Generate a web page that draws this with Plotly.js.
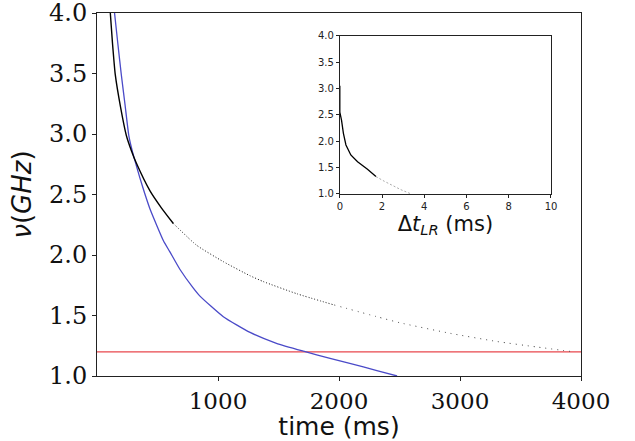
<!DOCTYPE html>
<html>
<head>
<meta charset="utf-8">
<script src="https://cdn.plot.ly/plotly-3.0.1.min.js"></script>
<style>html,body{margin:0;padding:0;background:#fff;}#chart{width:635px;height:441px;}</style>
</head>
<body>
<div id="chart"></div>
<script>
// Main panel: frequency (GHz) vs time (ms)
const blueTime = [145, 173, 201, 232, 264, 294, 325, 355, 394, 438, 548, 600, 686, 793, 851, 1044, 1265, 1483, 1706, 1926, 2089, 2313, 2480];
const blueFreq = [4.0, 3.74, 3.49, 3.24, 2.98, 2.85, 2.74, 2.635, 2.51, 2.38, 2.12, 2.03, 1.88, 1.73, 1.66, 1.49, 1.36, 1.27, 1.205, 1.146, 1.105, 1.045, 1.0];

const blackTimeSolid = [110, 128, 151, 195, 242, 285, 325, 438, 532, 631];
const blackFreqSolid = [4.0, 3.75, 3.49, 3.22, 2.99, 2.86, 2.76, 2.53, 2.39, 2.26];
const blackTimeDense = [631, 824, 1044, 1262, 1375, 1651, 1960];
const blackFreqDense = [2.26, 2.08, 1.945, 1.83, 1.78, 1.68, 1.587];
const blackTimeSparse = [1960, 2313, 2503, 2917, 3306, 3633, 3936];
const blackFreqSparse = [1.587, 1.49, 1.44, 1.353, 1.285, 1.24, 1.20];

const redTime = [0, 4000];
const redFreq = [1.2, 1.2];

// Inset: frequency (GHz) vs delta t_LR (ms)
const insetDt = [0, 0, 0.08, 0.17, 0.29, 0.52, 0.84, 1.31, 1.71];
const insetFreq = [3.05, 2.55, 2.40, 2.15, 1.93, 1.74, 1.61, 1.47, 1.33];
const insetDtFaint = [1.71, 2.11, 2.9, 3.38];
const insetFreqFaint = [1.33, 1.24, 1.08, 1.0];

const mainXTicks = [1000, 2000, 3000, 4000];
const mainYTicks = [1.0, 1.5, 2.0, 2.5, 3.0, 3.5, 4.0];
const insetXTicks = [0, 2, 4, 6, 8, 10];
const insetYTicks = [1.0, 1.5, 2.0, 2.5, 3.0, 3.5, 4.0];

const smooth = {shape: 'spline', smoothing: 0.5};

const traces = [
  {x: redTime, y: redFreq, mode: 'lines', line: {color: '#e8474c', width: 1.2}, hoverinfo: 'skip'},
  {x: blueTime, y: blueFreq, mode: 'lines', line: Object.assign({color: '#4a4ac8', width: 1.3}, smooth), hoverinfo: 'skip'},
  {x: blackTimeSolid, y: blackFreqSolid, mode: 'lines', line: Object.assign({color: '#000', width: 1.4}, smooth), hoverinfo: 'skip'},
  {x: blackTimeDense, y: blackFreqDense, mode: 'lines', line: Object.assign({color: '#111', width: 1, dash: '1px,2px'}, smooth), hoverinfo: 'skip'},
  {x: blackTimeSparse, y: blackFreqSparse, mode: 'lines', line: Object.assign({color: '#444', width: 1, dash: '1px,5px'}, smooth), hoverinfo: 'skip'},
  {x: insetDt, y: insetFreq, xaxis: 'x2', yaxis: 'y2', mode: 'lines', line: {color: '#000', width: 1.3}, hoverinfo: 'skip'},
  {x: insetDtFaint, y: insetFreqFaint, xaxis: 'x2', yaxis: 'y2', mode: 'lines', line: {color: '#aaa', width: 1, dash: '2px,2px'}, hoverinfo: 'skip'}
];

const axisCommon = {showline: true, mirror: true, linecolor: '#222', linewidth: 1, ticks: 'outside', tickcolor: '#222', showgrid: false, zeroline: false, ticklabeloverflow: 'allow'};

const layout = {
  width: 635, height: 441,
  margin: {l: 97, r: 54, t: 13, b: 65},
  paper_bgcolor: '#fff', plot_bgcolor: '#fff',
  showlegend: false,
  xaxis: Object.assign({}, axisCommon, {
    range: [0, 4000], tickvals: mainXTicks, ticktext: mainXTicks.map(String), ticklen: 4,
    tickfont: {family: 'DejaVu Serif', size: 23, color: '#111'},
    title: {text: 'time (ms)', font: {family: 'DejaVu Sans', size: 25, color: '#111'}, standoff: 2}
  }),
  yaxis: Object.assign({}, axisCommon, {
    range: [1, 4], tickvals: mainYTicks, ticktext: mainYTicks.map(v => v.toFixed(1)), ticklen: 4,
    tickfont: {family: 'DejaVu Serif', size: 24, color: '#111'},
    title: {text: '<i>ν</i>(<i>GHz</i>)', font: {family: 'DejaVu Sans', size: 26, color: '#111'}, standoff: 9}
  }),
  xaxis2: Object.assign({}, axisCommon, {
    domain: [0.5017, 0.938], anchor: 'y2', range: [0, 10], tickvals: insetXTicks, ticktext: insetXTicks.map(String), ticklen: 3,
    tickfont: {family: 'DejaVu Sans', size: 10, color: '#222'},
    title: {text: 'Δ<i>t</i><sub><i>LR</i></sub> (ms)', font: {family: 'DejaVu Sans', size: 21, color: '#111'}, standoff: 0}
  }),
  yaxis2: Object.assign({}, axisCommon, {
    domain: [0.5014, 0.9375], anchor: 'x2', range: [1, 4], tickvals: insetYTicks, ticktext: insetYTicks.map(v => v.toFixed(1)), ticklen: 3,
    tickfont: {family: 'DejaVu Sans', size: 10, color: '#222'}
  })
};

Plotly.newPlot('chart', traces, layout, {staticPlot: true, displayModeBar: false});
</script>
</body>
</html>
